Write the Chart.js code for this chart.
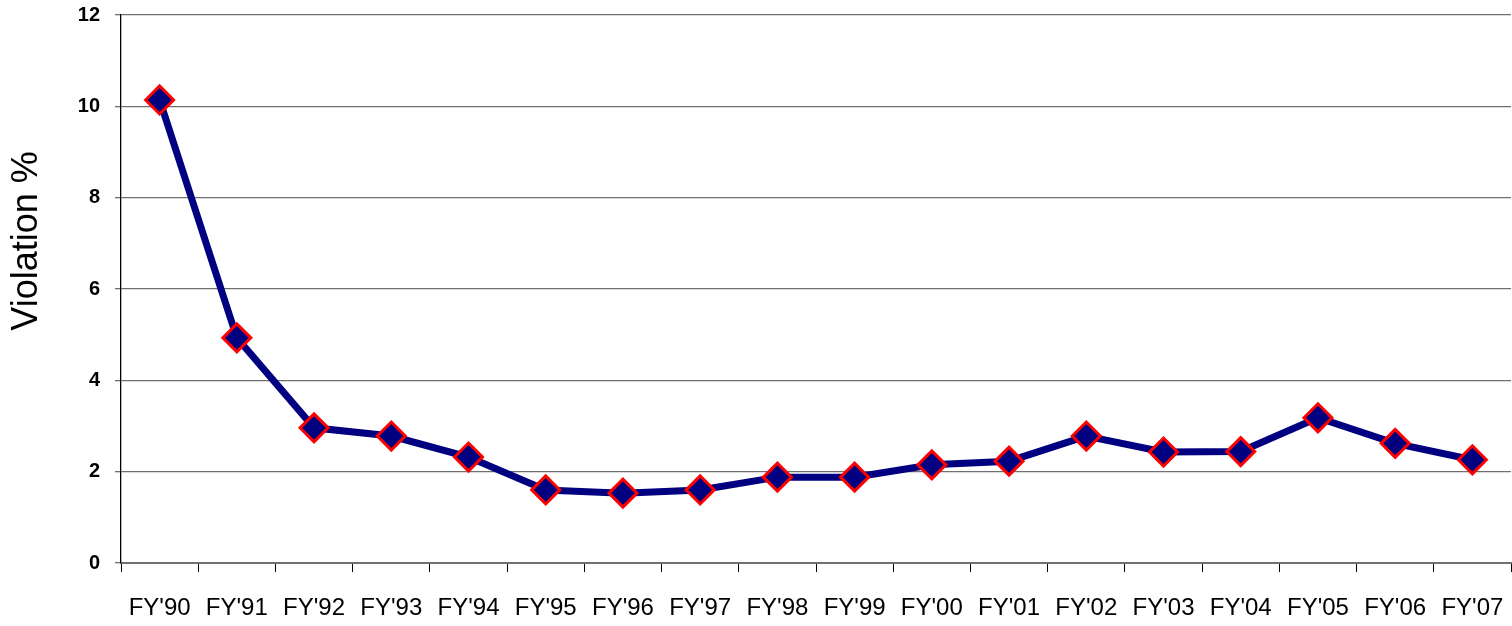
<!DOCTYPE html>
<html>
<head>
<meta charset="utf-8">
<script src="https://cdn.jsdelivr.net/npm/chart.js@4"></script>
<style>
  html, body { margin: 0; padding: 0; background: #ffffff; overflow: hidden; }
  #wrap { width: 1512px; height: 626px; position: relative; }
  canvas { display: block; }
</style>
</head>
<body>
<div id="wrap"><canvas id="c" width="1512" height="626"></canvas></div>
<script>
const categories = ["FY'90","FY'91","FY'92","FY'93","FY'94","FY'95","FY'96","FY'97","FY'98","FY'99","FY'00","FY'01","FY'02","FY'03","FY'04","FY'05","FY'06","FY'07"];
const violationPct = [10.14, 4.93, 2.96, 2.78, 2.32, 1.60, 1.53, 1.60, 1.88, 1.88, 2.15, 2.23, 2.78, 2.43, 2.44, 3.18, 2.62, 2.26];
const yTicks = [0, 2, 4, 6, 8, 10, 12];
const yTitle = "Violation %";

const yTitlePlugin = {
  id: 'yTitlePlugin',
  afterDraw(chart) {
    const ctx = chart.ctx;
    ctx.save();
    ctx.translate(27, 241);
    ctx.rotate(-Math.PI / 2);
    ctx.font = '36px "Liberation Sans", Arial, sans-serif';
    ctx.fillStyle = '#000';
    ctx.textAlign = 'center';
    ctx.textBaseline = 'middle';
    ctx.fillText(yTitle, 0, 0);
    ctx.restore();
  }
};

const zeroPad = () => ({ left: 0, top: 0, right: 0, bottom: 0 });

new Chart(document.getElementById('c'), {
  type: 'line',
  data: {
    labels: categories,
    datasets: [{
      data: violationPct,
      borderColor: '#000080',
      borderWidth: 7,
      backgroundColor: '#000080',
      pointStyle: 'rectRot',
      pointRadius: 14,
      pointHoverRadius: 14,
      pointBackgroundColor: '#000080',
      pointBorderColor: '#ff0000',
      pointBorderWidth: 3,
      tension: 0,
      fill: false,
      clip: false
    }]
  },
  options: {
    responsive: false,
    animation: false,
    events: [],
    layout: { autoPadding: false, padding: { top: 15, right: 1, left: 0, bottom: 0 } },
    plugins: { legend: { display: false }, tooltip: { enabled: false } },
    scales: {
      x: {
        offset: true,
        afterFit: (s) => { s.height = 63; s.paddingLeft = 0; s.paddingRight = 0; s.getPadding = zeroPad; },
        grid: {
          offset: true,
          drawOnChartArea: false,
          drawTicks: true,
          tickLength: 9,
          color: '#000',
          lineWidth: 1
        },
        border: { display: true, color: '#707070', width: 2 },
        ticks: {
          color: '#000',
          font: { family: '"Liberation Sans", Arial, sans-serif', size: 24 },
          padding: 22,
          maxRotation: 0,
          autoSkip: false
        }
      },
      y: {
        min: 0,
        max: 12,
        afterFit: (s) => { s.width = 121; s.paddingTop = 0; s.paddingBottom = 0; s.getPadding = zeroPad; },
        afterBuildTicks: (s) => { s.ticks = yTicks.map(v => ({ value: v })); },
        grid: {
          color: '#707070',
          lineWidth: 1.3,
          drawTicks: true,
          tickLength: 6
        },
        border: { display: true, color: '#000', width: 1.3 },
        ticks: {
          color: '#000',
          font: { family: '"Liberation Sans", Arial, sans-serif', size: 20, weight: 'bold' },
          padding: 15
        }
      }
    }
  },
  plugins: [yTitlePlugin]
});
</script>
</body>
</html>
